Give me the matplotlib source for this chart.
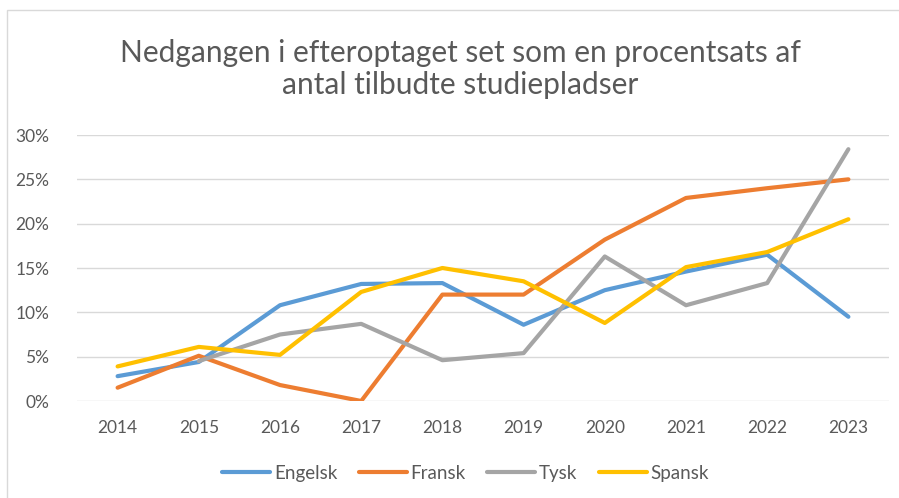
import matplotlib
matplotlib.use("Agg")
import matplotlib.pyplot as plt
import numpy as np
from matplotlib.ticker import PercentFormatter
from matplotlib.patches import Rectangle

years = ["2014", "2015", "2016", "2017", "2018", "2019", "2020", "2021", "2022", "2023"]
engelsk = [2.8, 4.4, 10.8, 13.2, 13.3, 8.6, 12.5, 14.6, 16.5, 9.5]
fransk = [1.5, 5.1, 1.8, 0.0, 12.0, 12.0, 18.2, 22.9, 24.0, 25.0]
tysk = [np.nan, 4.5, 7.5, 8.7, 4.6, 5.4, 16.3, 10.8, 13.3, 28.4]
spansk = [3.9, 6.1, 5.2, 12.3, 15.0, 13.5, 8.8, 15.1, 16.8, 20.5]

series = [("Engelsk", engelsk, "#5B9BD5"), ("Fransk", fransk, "#ED7D31"),
          ("Tysk", tysk, "#A5A5A5"), ("Spansk", spansk, "#FFC000")]
title = "Nedgangen i efteroptaget set som en procentsats af\nantal tilbudte studiepladser"

plt.rcParams['font.family'] = ['Lato', 'DejaVu Sans']
W, H = 899, 498
fig = plt.figure(figsize=(W/100, H/100), dpi=100)
ax = fig.add_axes([77/W, 1-401/H, (889-77)/W, (401-135)/H])

x = np.arange(len(years))
for name, vals, col in series:
    ax.plot(x, np.array(vals)/100, color=col, lw=3.0, solid_capstyle='round',
            solid_joinstyle='round', label=name)

ax.set_xlim(-0.5, len(years)-0.5)
ax.set_ylim(0, 0.30)
ax.set_yticks(np.arange(0, 0.301, 0.05))
ax.yaxis.set_major_formatter(PercentFormatter(1.0, decimals=0))
ax.set_xticks(x)
ax.set_xticklabels(years)
ax.grid(axis='y', color='#D9D9D9', lw=1.0)
ax.set_axisbelow(True)
for s in ax.spines.values():
    s.set_visible(False)
ax.tick_params(length=0, labelsize=12.5, colors='#595959')
ax.tick_params(axis='y', pad=20)
ax.tick_params(axis='x', pad=14)

fig.text(0.512, 1-69/H, title, ha='center', va='center', fontsize=21.5,
         color='#595959', linespacing=1.2)

leg = fig.legend(loc='center', bbox_to_anchor=(0.518, 1-473/H), ncol=4, frameon=False,
                 fontsize=13.5, handlelength=2.55, handletextpad=0.2, columnspacing=1.15)
for t in leg.get_texts():
    t.set_color('#595959')

fig.patches.append(Rectangle((7/W, -0.1), 1.2, 1-10/H+0.1, transform=fig.transFigure,
                             fill=False, edgecolor='#D9D9D9', lw=1.0))

fig.savefig("out.png", dpi=100, facecolor='white')
